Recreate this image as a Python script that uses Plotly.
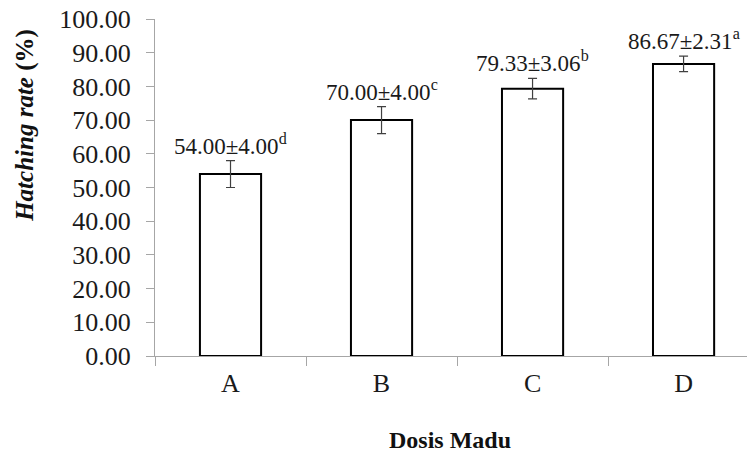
import plotly.graph_objects as go

categories = ["A", "B", "C", "D"]
means = [54.00, 70.00, 79.33, 86.67]
sds = [4.00, 4.00, 3.06, 2.31]
letters = ["d", "c", "b", "a"]
y_ticks = [0, 10, 20, 30, 40, 50, 60, 70, 80, 90, 100]

FONT = "Liberation Serif"
AXIS_GRAY = "#a6a6a6"

fig = go.Figure()
fig.add_trace(go.Bar(
    x=categories,
    y=means,
    width=0.405,
    marker=dict(color="white", line=dict(color="black", width=2)),
    error_y=dict(type="data", array=sds, visible=True, color="#404040",
                 thickness=1.2, width=4.5),
    showlegend=False,
    hoverinfo="skip",
))

for c, m, s, l in zip(categories, means, sds, letters):
    fig.add_annotation(
        x=c, y=m + s, xref="x", yref="y",
        text=f"{m:.2f}±{s:.2f}<sup>{l}</sup>",
        showarrow=False, yanchor="bottom", yshift=0,
        font=dict(family=FONT, size=23, color="#1a1a1a"),
    )

fig.add_annotation(
    x=0, y=0.683, xref="paper", yref="paper", xshift=-130,
    text="<b><i>Hatching rate</i> (%)</b>", textangle=-90,
    showarrow=False, xanchor="center", yanchor="middle",
    font=dict(family=FONT, size=25, color="#111"),
)
fig.add_annotation(
    x=0.498, y=-0.249, xref="paper", yref="paper",
    text="<b>Dosis Madu</b>",
    showarrow=False, xanchor="center", yanchor="middle",
    font=dict(family=FONT, size=24, color="#111"),
)

fig.update_layout(
    width=747, height=452,
    margin=dict(l=155, r=0, t=19, b=96),
    paper_bgcolor="white", plot_bgcolor="white",
    font=dict(family=FONT, color="#1a1a1a"),
    xaxis=dict(
        range=[-0.5, 3.42], showline=True, linecolor=AXIS_GRAY, linewidth=1,
        ticks="outside", tickson="boundaries", ticklen=9, tickcolor=AXIS_GRAY,
        tickfont=dict(family=FONT, size=26), showgrid=False, zeroline=False,
        ticklabelstandoff=4,
    ),
    yaxis=dict(
        range=[0, 100], tickvals=y_ticks, tickformat=".2f",
        showline=True, linecolor=AXIS_GRAY, linewidth=1,
        ticks="outside", ticklen=8, tickcolor=AXIS_GRAY,
        tickfont=dict(family=FONT, size=26), showgrid=False, zeroline=False,
        ticklabelstandoff=10,
    ),
)

fig.write_html(
    "out.html",
    config={"displayModeBar": False},
    post_script="document.body.style.margin='0';document.body.style.overflow='hidden';",
)
